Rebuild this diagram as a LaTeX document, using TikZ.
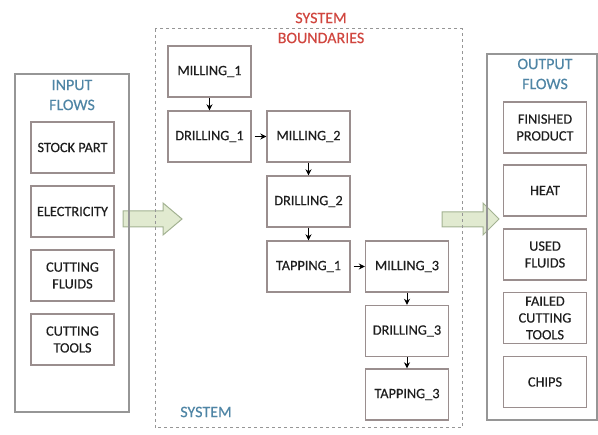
\documentclass[tikz,border=0pt]{standalone}
\usepackage{fontspec}
\setmainfont{Carlito}
\newfontfamily\boxfont{Carlito}[FakeBold=0.35]
\usetikzlibrary{arrows.meta}
\definecolor{boxline}{HTML}{9A8E8E}
\definecolor{contline}{HTML}{969696}
\definecolor{titleblue}{HTML}{4F85A5}
\definecolor{sysred}{HTML}{D0463F}
\definecolor{flowfill}{HTML}{E1EAD0}
\definecolor{flowline}{HTML}{A3B292}
\definecolor{txt}{HTML}{1E1E1E}
\tikzset{
  pbox/.style={draw=boxline, line width=1.4pt, minimum width=83pt, minimum height=51pt,
    align=center, inner sep=1pt, text=txt, font=\boxfont\fontsize{14.3}{16.8}\selectfont},
  cont/.style={draw=contline, line width=1.2pt},
  ttl/.style={align=center, font=\boxfont\fontsize{16}{20}\selectfont},
  flow/.style={fill=flowfill, draw=flowline, line width=1pt},
  link/.style={-{Stealth[length=6pt,width=6pt]}, line width=1pt, black}
}
\begin{document}
\begin{tikzpicture}[x=1pt,y=-1pt]
\useasboundingbox (0,0) rectangle (598,435);
% flow arrows (behind)
\draw[flow] (123,211) -- (163,211) -- (163,203) -- (182,219) -- (163,235) -- (163,227) -- (123,227) -- cycle;
\draw[flow] (442,212) -- (483,212) -- (483,203) -- (499,219) -- (483,235) -- (483,227) -- (442,227) -- cycle;
% containers
\draw[cont] (15,74) rectangle (129,412);
\draw[cont] (487,54) rectangle (597,420);
\draw[draw=contline, line width=1pt, dash pattern=on 3pt off 3pt] (155,29) rectangle (462,428);
% titles
\node[ttl, text=titleblue] (tin) at (72,95) {INPUT\\FLOWS};
\node[ttl, text=titleblue] (tout) at (545,74) {OUTPUT\\FLOWS};
\node[ttl, text=sysred] (tsys) at (321,28) {SYSTEM\\BOUNDARIES};
\node[ttl, text=titleblue] (tsystem) at (206,412) {SYSTEM};
% input boxes
\node[pbox] (sp) at (72.5,147.5) {STOCK PART};
\node[pbox] (el) at (72.5,211.5) {ELECTRICITY};
\node[pbox] (cf) at (72.5,275.5) {CUTTING\\FLUIDS};
\node[pbox] (ct) at (72.5,339.5) {CUTTING\\TOOLS};
% output boxes
\node[pbox] (fp) at (545,127.5) {FINISHED\\PRODUCT};
\node[pbox] (he) at (545,190.5) {HEAT};
\node[pbox] (uf) at (545,254.5) {USED\\FLUIDS};
\node[pbox] (fc) at (545,318) {FAILED\\CUTTING\\TOOLS};
\node[pbox] (ch) at (545,382) {CHIPS};
% process boxes
\node[pbox] (m1) at (209.5,71.5) {MILLING\_1};
\node[pbox] (d1) at (209.5,136.5) {DRILLING\_1};
\node[pbox] (m2) at (308.5,136.5) {MILLING\_2};
\node[pbox] (d2) at (308.5,201.5) {DRILLING\_2};
\node[pbox] (t1) at (308.5,266.5) {TAPPING\_1};
\node[pbox] (m3) at (407,266.5) {MILLING\_3};
\node[pbox] (d3) at (407,331) {DRILLING\_3};
\node[pbox] (t3) at (407,394.5) {TAPPING\_3};
% links
\draw[link] (m1) -- (d1);
\draw[link, shorten <=3pt] (d1) -- (m2);
\draw[link] (m2) -- (d2);
\draw[link] (d2) -- (t1);
\draw[link, shorten <=3pt] (t1) -- (m3);
\draw[link] (m3) -- (d3);
\draw[link] (d3) -- (t3);
\end{tikzpicture}
\end{document}
